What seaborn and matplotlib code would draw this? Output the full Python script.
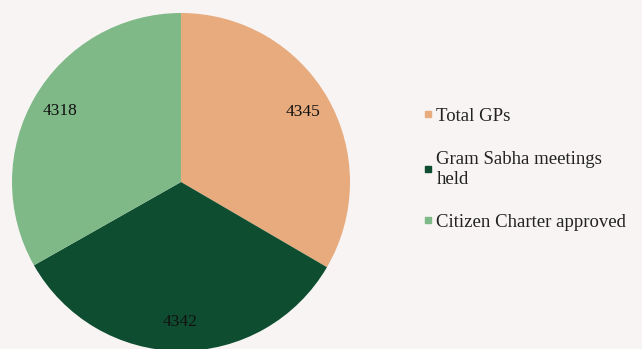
import matplotlib
matplotlib.use("Agg")
import matplotlib.pyplot as plt
import seaborn as sns

# Data
categories = ["Total GPs", "Gram Sabha meetings\nheld", "Citizen Charter approved"]
values = [4345, 4342, 4318]
colors = ["#e8ab7e", "#0e4d2f", "#80b988"]

sns.set_theme(style="white")
plt.rcParams["font.family"] = ["Liberation Serif", "DejaVu Serif"]

bg = "#f7f4f3"
fig = plt.figure(figsize=(6.42, 3.49), dpi=100, facecolor=bg)

# pie axes: centre ~ (181, 182 from top), radius ~169 px
W, H = 642, 349
r = 169
cx, cy = 181, H - 182
ax = fig.add_axes([(cx - r) / W, (cy - r) / H, 2 * r / W, 2 * r / H])
ax.set_facecolor(bg)

wedges, texts = ax.pie(values, colors=colors, startangle=90, counterclock=False,
                       labels=[str(v) for v in values], labeldistance=0.83,
                       wedgeprops=dict(linewidth=0))
for t in texts:
    t.set_ha("center")
    t.set_va("center")
    t.set_fontsize(12.5)
    t.set_color("#111111")
ax.set_xlim(-1, 1)
ax.set_ylim(-1, 1)
ax.set_aspect("equal")
ax.axis("off")

handles = [plt.Line2D([], [], marker="s", linestyle="", markersize=5,
                      markerfacecolor=c, markeredgecolor=c) for c in colors]
leg = fig.legend(handles, categories, loc="center left", bbox_to_anchor=(0.658, 0.515),
                 frameon=False, fontsize=13.5, handletextpad=0.15, handlelength=0.6,
                 labelspacing=1.4, borderpad=0, borderaxespad=0)
for t in leg.get_texts():
    t.set_color("#222222")

fig.savefig("out.png", dpi=100, facecolor=bg)
